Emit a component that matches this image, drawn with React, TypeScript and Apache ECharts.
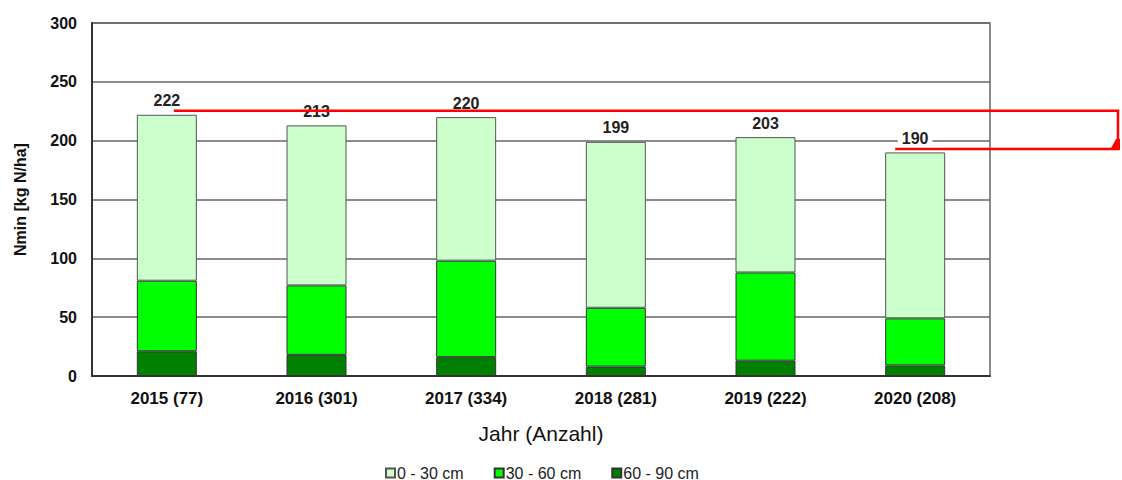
import React, { useEffect, useRef } from "react";
import * as echarts from "echarts";

const categories = ["2015 (77)", "2016 (301)", "2017 (334)", "2018 (281)", "2019 (222)", "2020 (208)"];
const depth0to30 = [141, 136, 122, 141, 115, 141];
const depth30to60 = [60, 59, 82, 50, 75, 40];
const depth60to90 = [21, 18, 16, 8, 13, 9];
const totals = [222, 213, 220, 199, 203, 190];
const seriesNames = ["0 - 30 cm", "30 - 60 cm", "60 - 90 cm"];
const yTicks = [0, 50, 100, 150, 200, 250, 300];

const FONT = "'Liberation Sans', Arial, sans-serif";

export default function App() {
  const ref = useRef<HTMLDivElement>(null);

  useEffect(() => {
    document.body.style.margin = "0";
    if (!ref.current) return;
    const chart = echarts.init(ref.current, null, { renderer: "svg" });
    const option: any = {
      animation: false,
      backgroundColor: "#ffffff",
      textStyle: { fontFamily: FONT },
      grid: {
        left: 92,
        right: 132,
        top: 23,
        bottom: 104,
        show: true,
        borderColor: "#666",
        borderWidth: 1.5,
      },
      legend: {
        data: seriesNames,
        left: 385,
        top: 465,
        padding: 0,
        itemWidth: 9,
        itemHeight: 9,
        itemGap: 30,
        icon: "rect",
        textStyle: { fontSize: 16, color: "#222", fontFamily: FONT, padding: [0, 0, 0, -3] },
      },
      xAxis: {
        type: "category",
        data: categories,
        name: "Jahr (Anzahl)",
        nameLocation: "middle",
        nameGap: 47,
        nameTextStyle: { fontSize: 21, color: "#111", fontFamily: FONT },
        axisLine: { show: true, lineStyle: { color: "#333", width: 2 } },
        axisTick: { show: false },
        axisLabel: { fontSize: 17, fontWeight: "bold", color: "#111", margin: 14, fontFamily: FONT },
      },
      yAxis: {
        type: "value",
        min: yTicks[0],
        max: yTicks[yTicks.length - 1],
        interval: 50,
        name: "Nmin [kg N/ha]",
        nameLocation: "middle",
        nameGap: 64,
        nameRotate: 90,
        nameTextStyle: { fontSize: 16, fontWeight: "bold", color: "#111", fontFamily: FONT },
        axisLine: { show: true, lineStyle: { color: "#333", width: 2 } },
        axisTick: { show: false },
        axisLabel: { fontSize: 16, fontWeight: "bold", color: "#111", margin: 15, fontFamily: FONT },
        splitLine: { show: true, lineStyle: { color: "#666", width: 1.5 } },
      },
      series: [
        {
          name: seriesNames[2],
          type: "bar",
          stack: "n",
          barWidth: 60,
          data: depth60to90,
          itemStyle: { color: "#008000", borderColor: "#333", borderWidth: 1 },
        },
        {
          name: seriesNames[1],
          type: "bar",
          stack: "n",
          barWidth: 60,
          data: depth30to60,
          itemStyle: { color: "#00ff00", borderColor: "#333", borderWidth: 1 },
        },
        {
          name: seriesNames[0],
          type: "bar",
          stack: "n",
          barWidth: 60,
          data: depth0to30,
          itemStyle: { color: "#ccffcc", borderColor: "#555", borderWidth: 1 },
          label: {
            show: true,
            position: "top",
            distance: 5,
            formatter: (p: any) => String(totals[p.dataIndex]),
            fontSize: 16,
            fontWeight: "bold",
            color: "#222",
            backgroundColor: "#ffffff",
            padding: [1, 4],
            fontFamily: FONT,
          },
        },
      ],
    };
    chart.setOption(option);

    // red annotation arrow, anchored to the axes
    const yTop = chart.convertToPixel({ yAxisIndex: 0 }, 225.5) as number;
    const yBot = chart.convertToPixel({ yAxisIndex: 0 }, 193) as number;
    const xStart = (chart.convertToPixel({ xAxisIndex: 0 }, categories[0]) as number) + 7;
    const xEndBottom = (chart.convertToPixel({ xAxisIndex: 0 }, categories[5]) as number) - 20;
    const xRight = 1118;
    chart.setOption({
      graphic: [
        {
          type: "polyline",
          z: 100,
          shape: {
            points: [
              [xStart, yTop],
              [xRight, yTop],
              [xRight, yBot],
              [xEndBottom, yBot],
            ],
          },
          style: { stroke: "#ff0000", lineWidth: 2.5, fill: "none" },
        },
        {
          type: "polygon",
          z: 101,
          shape: {
            points: [
              [xRight - 2, yBot - 10],
              [xRight + 2, yBot - 10],
              [xRight + 2, yBot + 1],
              [xRight - 8, yBot + 1],
            ],
          },
          style: { fill: "#ff0000" },
        },
      ],
    });

    return () => chart.dispose();
  }, []);

  return <div ref={ref} style={{ width: 1122, height: 480 }} />;
}
